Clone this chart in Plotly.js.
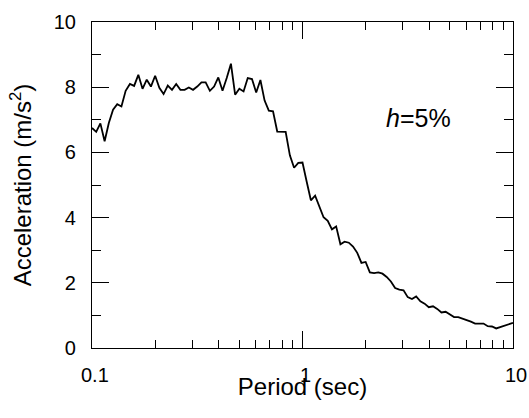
<!DOCTYPE html>
<html>
<head>
<meta charset="utf-8">
<script src="https://cdn.plot.ly/plotly-3.0.1.min.js"></script>
<style>html,body{margin:0;padding:0;background:#fff}#chart{width:529px;height:418px}</style>
</head>
<body>
<div id="chart"></div>
<script>
// Period (sec)
const period = [
  0.1000,0.1047,0.1096,0.1148,0.1202,0.1259,0.1318,0.1380,0.1445,0.1514,
  0.1585,0.1660,0.1738,0.1820,0.1905,0.1995,0.2089,0.2188,0.2291,0.2399,
  0.2512,0.2630,0.2754,0.2884,0.3020,0.3162,0.3311,0.3467,0.3631,0.3802,
  0.3981,0.4169,0.4365,0.4571,0.4786,0.5012,0.5248,0.5495,0.5754,0.6026,
  0.6310,0.6607,0.6918,0.7244,0.7586,0.7943,0.8318,0.8710,0.9120,0.9550,
  1.000,1.047,1.096,1.148,1.202,1.259,1.318,1.380,1.445,1.514,
  1.585,1.660,1.738,1.820,1.905,1.995,2.089,2.188,2.291,2.399,
  2.512,2.630,2.754,2.884,3.020,3.162,3.311,3.467,3.631,3.802,
  3.981,4.169,4.365,4.571,4.786,5.012,5.248,5.495,5.754,6.026,
  6.310,6.607,6.918,7.244,7.586,7.943,8.318,8.710,9.120,9.550,
  10.00
];
// Spectral acceleration (m/s^2), h = 5%
const accel = [
  6.75,6.63,6.89,6.34,6.90,7.31,7.48,7.41,7.89,8.10,
  8.04,8.38,7.95,8.23,8.02,8.35,7.98,7.79,8.05,7.92,
  8.10,7.92,7.92,7.99,7.92,8.02,8.15,8.15,7.89,8.02,
  8.30,7.89,8.28,8.72,7.77,7.95,7.87,8.28,8.25,7.84,
  8.22,7.59,7.28,7.26,6.64,6.64,6.63,5.91,5.53,5.68,
  5.69,5.10,4.53,4.67,4.33,4.01,3.90,3.64,3.73,3.18,
  3.26,3.23,3.11,2.92,2.61,2.64,2.32,2.30,2.32,2.28,
  2.18,2.04,1.84,1.79,1.77,1.56,1.50,1.58,1.43,1.36,
  1.25,1.28,1.20,1.09,1.11,1.02,0.95,0.95,0.91,0.86,
  0.81,0.75,0.75,0.75,0.67,0.66,0.60,0.64,0.68,0.72,
  0.77
];
const xMajorTicks = [0.1, 1, 10];
const xMajorLabels = ['0.1', '1', '10'];
const xMinorTicks = [0.2,0.3,0.4,0.5,0.6,0.7,0.8,0.9,2,3,4,5,6,7,8,9];
const yMajorTicks = [0, 2, 4, 6, 8, 10];
const yMajorLabels = ['0', '2', '4', '6', '8', '10'];
const yMinorTicks = [1, 3, 5, 7, 9];
const xTitle = 'Period (sec)';
const yTitle = 'Acceleration (m/s<sup>2</sup>)';
const annotationText = '<i>h</i>=5%';

const FONT = 'Liberation Sans, Arial, Helvetica, sans-serif';
const NBSP = '\u00a0';

const trace = {
  x: period, y: accel, type: 'scatter', mode: 'lines',
  line: {color: '#000', width: 1.8}, hoverinfo: 'skip', showlegend: false
};

// x tick labels sit well below the axis in the reference: place them as
// annotations anchored to the x scale
const xLabelAnnotations = xMajorTicks.map((v, i) => ({
  x: Math.log10(v), xref: 'x', y: 0, yref: 'paper',
  text: xMajorLabels[i], showarrow: false,
  xanchor: 'center', yanchor: 'middle', yshift: -27, xshift: 3,
  font: {family: FONT, size: 20, color: '#000'}
}));

const layout = {
  width: 529, height: 418,
  margin: {l: 92, r: 16, t: 22, b: 70, pad: 0},
  paper_bgcolor: '#fff', plot_bgcolor: '#fff',
  font: {family: FONT, color: '#000', size: 20},
  showlegend: false,
  xaxis: {
    type: 'log', range: [-1, 1],
    tickmode: 'array', tickvals: xMajorTicks,
    ticks: 'inside', ticklen: 17, tickwidth: 1, tickcolor: '#000',
    minor: {tickmode: 'array', tickvals: xMinorTicks, ticks: 'inside', ticklen: 8, tickwidth: 1, tickcolor: '#000', showgrid: false},
    showline: true, linecolor: '#000', linewidth: 1, mirror: 'allticks',
    showgrid: false, zeroline: false, showticklabels: false,
    title: {text: xTitle, font: {family: FONT, size: 24, color: '#000'}, standoff: 30}
  },
  yaxis: {
    range: [0, 10],
    tickmode: 'array', tickvals: yMajorTicks,
    ticktext: yMajorLabels.map(t => t + NBSP + NBSP),
    ticks: 'inside', ticklen: 17, tickwidth: 1, tickcolor: '#000',
    minor: {tickmode: 'array', tickvals: yMinorTicks, ticks: 'inside', ticklen: 9, tickwidth: 1, tickcolor: '#000', showgrid: false},
    showline: true, linecolor: '#000', linewidth: 1, mirror: 'allticks',
    showgrid: false, zeroline: false,
    tickfont: {family: FONT, size: 20, color: '#000'},
    title: {text: yTitle, font: {family: FONT, size: 24, color: '#000'}, standoff: 15}
  },
  annotations: xLabelAnnotations.concat([{
    x: Math.log10(3.57), y: 7.05, xref: 'x', yref: 'y',
    text: annotationText, showarrow: false,
    font: {family: FONT, size: 25, color: '#000'}, xanchor: 'center', yanchor: 'middle'
  }])
};

Plotly.newPlot('chart', [trace], layout, {staticPlot: true, displayModeBar: false});
</script>
</body>
</html>
